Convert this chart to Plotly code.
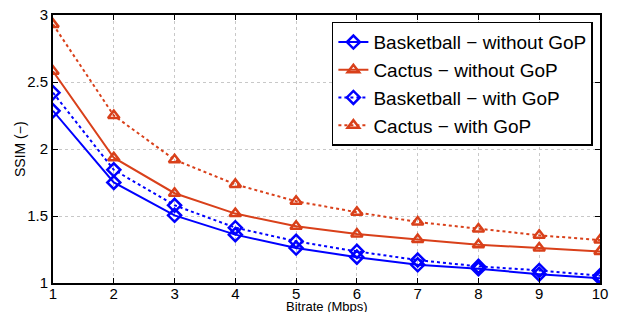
import plotly.graph_objects as go

bitrate = [1, 2, 3, 4, 5, 6, 7, 8, 9, 10]
basketball_without = [2.285, 1.75, 1.505, 1.361, 1.261, 1.193, 1.136, 1.106, 1.066, 1.036]
cactus_without = [2.58, 1.935, 1.67, 1.518, 1.423, 1.365, 1.324, 1.286, 1.261, 1.236]
basketball_with = [2.42, 1.845, 1.58, 1.413, 1.311, 1.236, 1.171, 1.124, 1.094, 1.054]
cactus_with = [2.93, 2.25, 1.92, 1.736, 1.61, 1.528, 1.455, 1.403, 1.356, 1.32]

x_ticks = [1, 2, 3, 4, 5, 6, 7, 8, 9, 10]
y_ticks = [1, 1.5, 2, 2.5, 3]
y_tick_labels = ["1", "1.5", "2", "2.5", "3"]
x_title = "Bitrate (Mbps)"
y_title = "SSIM (−)"

BLUE = "#0000FF"
RED = "#D9401A"

series = [
    ("Basketball − without GoP", basketball_without, BLUE, "solid", "diamond-open"),
    ("Cactus − without GoP", cactus_without, RED, "solid", "triangle-up-open"),
    ("Basketball − with GoP", basketball_with, BLUE, "3px,3px", "diamond-open"),
    ("Cactus − with GoP", cactus_with, RED, "3px,3px", "triangle-up-open"),
]

fig = go.Figure()
for name, ys, color, dash, sym in series:
    fig.add_trace(go.Scatter(
        x=bitrate, y=ys, name=name, mode="lines+markers",
        line=dict(color=color, width=2, dash=dash),
        marker=dict(symbol=sym, size=10, color=color, line=dict(color=color, width=2.5)),
    ))

FONT = "Liberation Sans, Arial"
axis_common = dict(
    showline=True, linecolor="black", linewidth=2, mirror="ticks",
    ticks="inside", ticklen=5, tickcolor="black", tickwidth=1,
    showgrid=True, gridcolor="#c8c8c8", griddash="dot", gridwidth=1,
    zeroline=False, automargin=False,
    tickfont=dict(family=FONT, size=15, color="black"),
)

fig.update_xaxes(range=[1, 10], tickvals=x_ticks, ticklabelstandoff=-4, **axis_common)
fig.update_yaxes(range=[1, 3], tickvals=y_ticks, ticktext=y_tick_labels, **axis_common)

fig.add_annotation(text=x_title, xref="paper", yref="paper", x=0.5, y=0,
                   xanchor="center", yanchor="top", yshift=-14, showarrow=False,
                   font=dict(family=FONT, size=13, color="black"))
fig.add_annotation(text=y_title, xref="paper", yref="paper", x=0, y=0.5,
                   xanchor="center", yanchor="middle", xshift=-33, textangle=-90,
                   showarrow=False, font=dict(family=FONT, size=14, color="black"))

fig.update_layout(
    width=617, height=312,
    margin=dict(l=53, r=17, t=15, b=29),
    paper_bgcolor="white", plot_bgcolor="white",
    showlegend=True,
    legend=dict(
        x=0.987, y=0.975, xanchor="right", yanchor="top",
        bgcolor="white", bordercolor="black", borderwidth=1.5,
        font=dict(family=FONT, size=19, color="black"),
        tracegroupgap=0, itemwidth=30,
    ),
)

fig.write_html("out.html", config={"displayModeBar": False},
               post_script="document.body.style.margin='0';document.body.style.overflow='hidden';")
